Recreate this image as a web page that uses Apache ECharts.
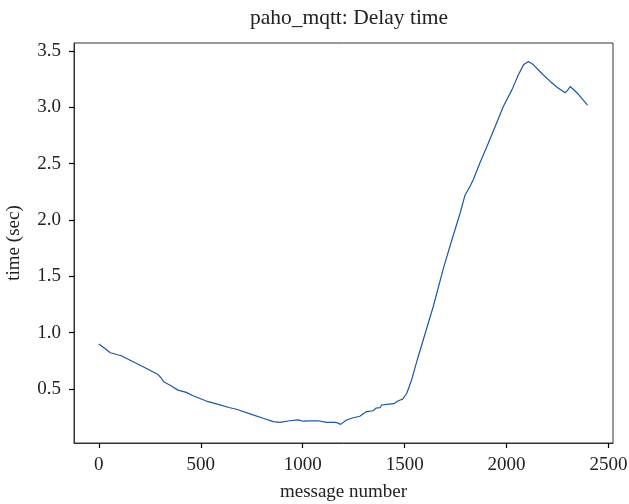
<!DOCTYPE html>
<html>
<head>
<meta charset="utf-8">
<script src="https://cdn.jsdelivr.net/npm/echarts@6/dist/echarts.min.js"></script>
<style>
  html, body { margin: 0; padding: 0; background: #fff; }
  #chart { width: 629px; height: 504px; }
</style>
</head>
<body>
<div id="chart"></div>
<script>
// message number (x) and delay time in seconds (y)
var messageNumbers = [0, 30, 56, 110, 151, 200, 241, 290, 305, 318, 356, 388, 429, 462, 527, 585, 638, 675, 756, 806,
  855, 888, 937, 977, 1002, 1040, 1076, 1117, 1158, 1170, 1186, 1215, 1248, 1280, 1313, 1346, 1359, 1379, 1387, 1411,
  1447, 1469, 1490, 1510, 1534, 1562, 1591, 1640, 1690, 1731, 1772, 1796, 1821, 1837, 1870, 1903, 1944, 1984, 2026, 2058,
  2083, 2107, 2132, 2173, 2214, 2254, 2287, 2299, 2312, 2345, 2397];
var delayTimes = [0.90, 0.86, 0.822, 0.795, 0.758, 0.713, 0.675, 0.628, 0.60, 0.565, 0.527, 0.49, 0.47, 0.44, 0.393, 0.364, 0.336, 0.32, 0.27, 0.24,
  0.21, 0.204, 0.218, 0.226, 0.214, 0.217, 0.218, 0.204, 0.204, 0.20, 0.186, 0.225, 0.245, 0.258, 0.30, 0.307, 0.33, 0.334, 0.358, 0.364,
  0.37, 0.396, 0.41, 0.46, 0.58, 0.76, 0.935, 1.23, 1.57, 1.82, 2.06, 2.22, 2.30, 2.36, 2.51, 2.65, 2.83, 3.007, 3.155, 3.29,
  3.377, 3.407, 3.377, 3.30, 3.23, 3.17, 3.13, 3.15, 3.185, 3.13, 3.02];
var xTicks = [0, 500, 1000, 1500, 2000, 2500];
var yTicks = [0.5, 1.0, 1.5, 2.0, 2.5, 3.0, 3.5];

var font = 'Liberation Serif';
var chart = echarts.init(document.getElementById('chart'));

var points = messageNumbers.map(function (x, i) { return [x, delayTimes[i]]; });

var option = {
  animation: false,
  backgroundColor: '#fff',
  title: {
    text: 'paho_mqtt: Delay time',
    left: 344,
    textAlign: 'center',
    top: 2,
    textStyle: { fontFamily: font, fontWeight: 'normal', fontSize: 21.5, color: '#222' }
  },
  grid: {
    left: 74, right: 16, top: 43, bottom: 61,
    containLabel: false,
    outerBoundsMode: 'none',
    show: true,
    borderColor: '#333',
    borderWidth: 1
  },
  xAxis: {
    type: 'value',
    min: -122,
    max: 2522,
    name: 'message number',
    nameLocation: 'middle',
    nameGap: 40,
    nameMoveOverlap: false,
    nameTextStyle: { fontFamily: font, fontSize: 19, color: '#222' },
    axisLine: { show: true, onZero: false, lineStyle: { color: '#333' } },
    splitLine: { show: false },
    axisTick: { show: true, inside: false, length: 5, customValues: xTicks, lineStyle: { color: '#000', width: 1.2 } },
    axisLabel: {
      customValues: xTicks, margin: 13, fontFamily: font, fontSize: 19, color: '#222',
      formatter: function (v) { return String(v); }
    }
  },
  yAxis: {
    type: 'value',
    min: 0.0207,
    max: 3.571,
    name: 'time (sec)',
    nameLocation: 'middle',
    nameGap: 50,
    nameMoveOverlap: false,
    nameRotate: 90,
    nameTextStyle: { fontFamily: font, fontSize: 19, color: '#222' },
    axisLine: { show: true, onZero: false, lineStyle: { color: '#333' } },
    splitLine: { show: false },
    axisTick: { show: true, inside: false, length: 5, customValues: yTicks, lineStyle: { color: '#000', width: 1.2 } },
    axisLabel: {
      customValues: yTicks, margin: 13, fontFamily: font, fontSize: 19, color: '#222',
      formatter: function (v) { return v.toFixed(1); }
    }
  },
  series: [{
    type: 'line',
    data: points,
    showSymbol: false,
    symbol: 'none',
    lineStyle: { color: '#1f55a5', width: 1.2 }
  }]
};

chart.setOption(option);
</script>
</body>
</html>
